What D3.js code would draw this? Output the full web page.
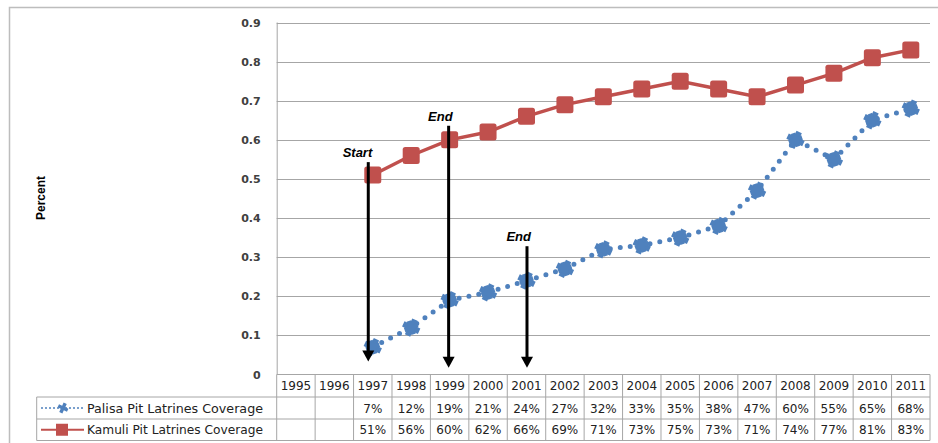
<!DOCTYPE html>
<html>
<head>
<meta charset="utf-8">
<script src="https://cdn.jsdelivr.net/npm/d3@7"></script>
<style>
  body { margin: 0; background: #fff; }
  svg { display: block; }
</style>
</head>
<body>
<div id="chart"></div>
<script>
    // chart values
    var years = ["1995", "1996", "1997", "1998", "1999", "2000", "2001", "2002", "2003",
                 "2004", "2005", "2006", "2007", "2008", "2009", "2010", "2011"];
    var palisa = [null, null, 0.07, 0.12, 0.19, 0.21, 0.24, 0.27, 0.32, 0.33, 0.35, 0.38, 0.47, 0.60, 0.55, 0.65, 0.68];
    var kamuli = [null, null, 0.51, 0.56, 0.60, 0.62, 0.66, 0.69, 0.71, 0.73, 0.75, 0.73, 0.71, 0.74, 0.77, 0.81, 0.83];
    var yTicks = [0, 0.1, 0.2, 0.3, 0.4, 0.5, 0.6, 0.7, 0.8, 0.9];
    var seriesNames = ["Palisa Pit Latrines Coverage", "Kamuli Pit Latrines Coverage"];

    // arrows drawn on the chart: year, top and tip in percent units
    var noteYears = ["1997", "1999", "2001"];
    var noteTops = [0.543, 0.636, 0.328];
    var noteTips = [0.033, 0.017, 0.017];
    var noteTexts = ["Start", "End", "End"];

    var width = 938, height = 443;
    var blue = "#4f81bd", red = "#c0504d", grid = "#a6a6a6";

    var svg = d3.select("#chart").append("svg")
        .attr("width", width)
        .attr("height", height);

    // outer chart frame
    svg.append("rect")
        .attr("x", 9.5).attr("y", 7.5)
        .attr("width", 940).attr("height", 450)
        .attr("fill", "none")
        .attr("stroke", "#bdbdbd")
        .attr("stroke-width", 1.5);

    var x = d3.scaleBand()
        .domain(years)
        .range([276.7, 930]);

    var y = d3.scaleLinear()
        .domain([0, 0.9])
        .range([374.5, 22.5]);

    // gridlines
    svg.append("g").selectAll("line")
        .data(yTicks.filter(function(d) { return d > 0; }))
        .enter().append("line")
        .attr("x1", x.range()[0]).attr("x2", x.range()[1])
        .attr("y1", function(d) { return Math.round(y(d)) + 0.5; })
        .attr("y2", function(d) { return Math.round(y(d)) + 0.5; })
        .attr("stroke", grid);

    // y axis
    var yAxis = svg.append("g")
        .attr("transform", "translate(" + x.range()[0] + ",0)")
        .call(d3.axisLeft(y).tickValues(yTicks).tickSize(0).tickPadding(16)
            .tickFormat(function(d) { return d === 0 ? "0" : d3.format(".1f")(d); }));
    yAxis.select(".domain").attr("stroke", grid).attr("d", "M0.5," + y(0.9) + "V" + y(0));
    yAxis.selectAll("text")
        .attr("font-family", "DejaVu Sans, Verdana, sans-serif")
        .attr("font-size", 11)
        .attr("font-weight", "bold")
        .attr("fill", "#404040");

    svg.append("text")
        .attr("transform", "translate(45,198) rotate(-90)")
        .attr("text-anchor", "middle")
        .attr("font-family", "Liberation Sans, Arial, sans-serif")
        .attr("font-size", 12)
        .attr("font-weight", "bold")
        .attr("fill", "#000")
        .text("Percent");

    // data table under the plot
    var rowTop = [374.5, 397, 419];
    var rowBottom = 440.5;
    var legendLeft = 36.7;
    var table = svg.append("g")
        .attr("stroke", grid)
        .attr("fill", "none");
    table.append("line")
        .attr("x1", x.range()[0]).attr("x2", x.range()[1])
        .attr("y1", rowTop[0]).attr("y2", rowTop[0]);
    table.selectAll(".hline")
        .data([rowTop[1], rowTop[2], rowBottom])
        .enter().append("line")
        .attr("x1", legendLeft).attr("x2", x.range()[1])
        .attr("y1", function(d) { return d; }).attr("y2", function(d) { return d; });
    table.selectAll(".vline")
        .data(years.concat(["end"]))
        .enter().append("line")
        .attr("x1", function(d, i) { return x.range()[0] + i * x.bandwidth(); })
        .attr("x2", function(d, i) { return x.range()[0] + i * x.bandwidth(); })
        .attr("y1", rowTop[0]).attr("y2", rowBottom);
    table.append("line")
        .attr("x1", legendLeft).attr("x2", legendLeft)
        .attr("y1", rowTop[1]).attr("y2", rowBottom);

    var cellFont = "DejaVu Sans, Verdana, sans-serif";
    var pct = function(v) { return v == null ? "" : Math.round(v * 100) + "%"; };
    svg.append("g").selectAll("text")
        .data(years)
        .enter().append("text")
        .attr("x", function(d) { return x(d) + x.bandwidth() / 2; })
        .attr("y", (rowTop[0] + rowTop[1]) / 2 + 4.5)
        .attr("text-anchor", "middle")
        .attr("font-family", cellFont).attr("font-size", 12).attr("fill", "#222")
        .text(function(d) { return d; });
    [palisa, kamuli].forEach(function(series, r) {
        var yy = (rowTop[r + 1] + (r === 0 ? rowTop[2] : rowBottom)) / 2 + 4.5;
        svg.append("g").selectAll("text")
            .data(series)
            .enter().append("text")
            .attr("x", function(d, i) { return x(years[i]) + x.bandwidth() / 2; })
            .attr("y", yy)
            .attr("text-anchor", "middle")
            .attr("font-family", cellFont).attr("font-size", 12).attr("fill", "#222")
            .text(pct);
        svg.append("text")
            .attr("x", 87).attr("y", yy)
            .attr("font-family", cellFont).attr("font-size", 12).attr("fill", "#222")
            .attr("textLength", 176).attr("lengthAdjust", "spacingAndGlyphs")
            .text(seriesNames[r]);
    });

    var cx = function(d, i) { return x(years[i]) + x.bandwidth() / 2; };
    var defined = function(d) { return d != null; };
    var withIndex = function(series) {
        return series.map(function(d, i) { return {v: d, i: i}; })
            .filter(function(d) { return d.v != null; });
    };

    // Kamuli series
    var kLine = d3.line().defined(defined).x(cx).y(function(d) { return y(d); });
    svg.append("path")
        .attr("d", kLine(kamuli))
        .attr("fill", "none")
        .attr("stroke", red)
        .attr("stroke-width", 3.5);
    svg.append("g").selectAll("rect")
        .data(withIndex(kamuli))
        .enter().append("rect")
        .attr("x", function(d) { return cx(d.v, d.i) - 8.5; })
        .attr("y", function(d) { return y(d.v) - 8.5; })
        .attr("width", 17).attr("height", 17)
        .attr("rx", 2.5)
        .attr("fill", red);

    // Palisa series: round dots with cross markers
    svg.append("path")
        .attr("d", kLine(palisa))
        .attr("fill", "none")
        .attr("stroke", blue)
        .attr("stroke-width", 5)
        .attr("stroke-linecap", "round")
        .attr("stroke-dasharray", "0 10");
    var cross = d3.symbol().type(d3.symbolCross);
    var pMarks = svg.append("g").selectAll("g")
        .data(withIndex(palisa))
        .enter().append("g")
        .attr("transform", function(d) { return "translate(" + cx(d.v, d.i) + "," + y(d.v) + ")"; })
        .attr("fill", blue);
    pMarks.append("path").attr("d", cross.size(170)()).attr("transform", "rotate(25)");
    pMarks.append("path").attr("d", cross.size(110)()).attr("transform", "rotate(-20)");

    // legend keys in the table
    var keyY1 = (rowTop[1] + rowTop[2]) / 2, keyY2 = (rowTop[2] + rowBottom) / 2;
    svg.append("line")
        .attr("x1", 41).attr("x2", 84).attr("y1", keyY1).attr("y2", keyY1)
        .attr("stroke", blue).attr("stroke-width", 1.5).attr("stroke-dasharray", "2 2");
    svg.append("path")
        .attr("transform", "translate(63," + keyY1 + ") rotate(25)")
        .attr("d", cross.size(60)())
        .attr("fill", blue);
    svg.append("line")
        .attr("x1", 41).attr("x2", 84).attr("y1", keyY2).attr("y2", keyY2)
        .attr("stroke", red).attr("stroke-width", 2);
    svg.append("rect")
        .attr("x", 56).attr("y", keyY2 - 6).attr("width", 12).attr("height", 12)
        .attr("fill", red);

    // annotation arrows
    var notes = svg.append("g").selectAll("g")
        .data(noteYears)
        .enter().append("g");
    var ax = function(d, i) { return x(d) + x.bandwidth() / 2 + [-4.5, -1, 0.5][i]; };
    notes.append("line")
        .attr("x1", ax).attr("x2", ax)
        .attr("y1", function(d, i) { return y(noteTops[i]); })
        .attr("y2", function(d, i) { return y(noteTips[i]) - 8; })
        .attr("stroke", "#000")
        .attr("stroke-width", 3);
    notes.append("path")
        .attr("d", function(d, i) {
            var px = ax(d, i), py = y(noteTips[i]);
            return "M" + (px - 6) + "," + (py - 11) + "L" + (px + 6) + "," + (py - 11) + "L" + px + "," + py + "Z";
        })
        .attr("fill", "#000");
    notes.append("text")
        .attr("x", function(d, i) { return ax(d, i) + 4; })
        .attr("y", function(d, i) { return y(noteTops[i]) - 5; })
        .attr("text-anchor", "end")
        .attr("font-family", "Liberation Sans, Arial, sans-serif")
        .attr("font-size", 13)
        .attr("font-weight", "bold")
        .attr("font-style", "italic")
        .attr("fill", "#000")
        .text(function(d, i) { return noteTexts[i]; });
</script>
</body>
</html>
